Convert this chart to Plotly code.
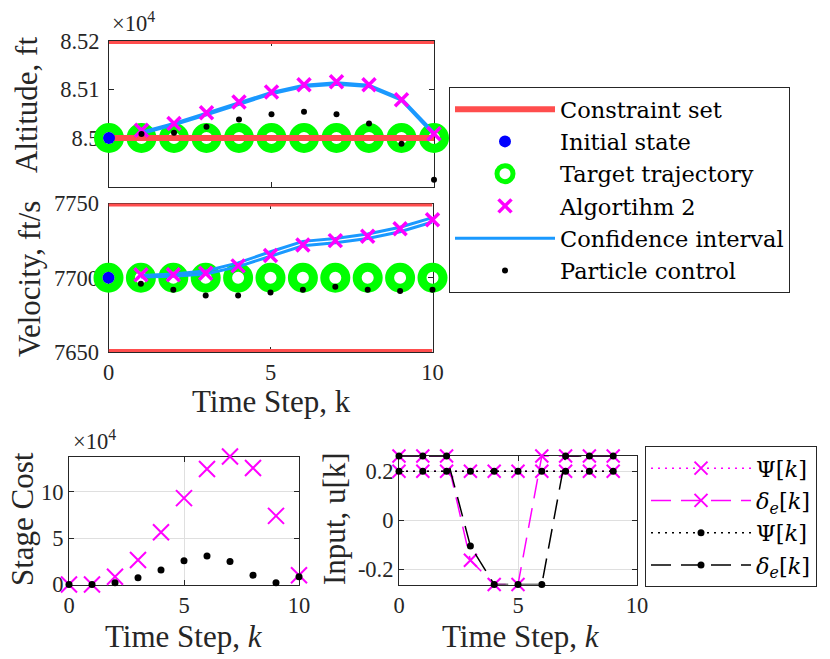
import plotly.graph_objects as go

# ---------------- data ----------------
steps = list(range(11))          # k = 0..10
steps_fwd = list(range(1, 11))   # k = 1..10
steps_u = list(range(10))        # k = 0..9
k_ticks = [0, 5, 10]

# Altitude, ft
alt_initial = [85000]
alt_target = [85000] * 11
alt_limits = [85000, 85200]
alt_alg = [85016, 85030, 85052, 85074, 85095, 85110, 85116, 85110, 85079, 85009]
alt_ci_upper = [85012, 85030, 85051, 85073, 85094, 85109, 85114, 85109, 85081, 85011]
alt_ci_lower = [85009, 85027, 85048, 85070, 85091, 85106, 85111, 85106, 85078, 85007]
alt_particle = [85008, 85011, 85023, 85038, 85049, 85054, 85049, 85030, 84988, 84914]
alt_range = [84900, 85200]
alt_tickvals = [85000, 85100, 85200]
alt_ticktext = ["8.5", "8.51", "8.52"]

# Velocity, ft/s
vel_initial = [7700]
vel_target = [7700] * 11
vel_limits = [7650, 7750]
vel_alg = [7702, 7702, 7703, 7708, 7715, 7722, 7725, 7728, 7733, 7739]
vel_ci_upper = [7701.5, 7702.5, 7704.5, 7710, 7717.5, 7724.5, 7726.5, 7729.5, 7734, 7740.5]
vel_ci_lower = [7700.5, 7701, 7702.5, 7707.5, 7714.5, 7721.5, 7723.5, 7726.5, 7731, 7737.5]
vel_particle = [7696, 7692, 7688, 7688, 7690, 7692, 7694, 7692, 7691, 7692]
vel_tickvals = [7650, 7700, 7750]

# Stage cost
cost_alg = [0, 0, 8300, 26400, 56300, 93100, 124500, 138000, 125600, 74000, 10000]
cost_particle = [0, 0, 1800, 7200, 15500, 25600, 30700, 24900, 10100, 1800, 8300]
cost_tickvals = [0, 50000, 100000]
cost_ticktext = ["0", "5", "10"]

# Inputs
psi_alg = [0.2] * 10
de_alg = [0.2618, 0.2618, 0.2618, -0.163, -0.2618, -0.2618, 0.2618, 0.2618, 0.2618, 0.2618]
psi_particle = [0.2] * 10
de_particle = [0.2618, 0.2618, 0.2618, -0.105, -0.2618, -0.2618, -0.2618, 0.2618, 0.2618, 0.2618]
u_tickvals = [-0.2, 0, 0.2]
u_ticktext = ["-0.2", "0", "0.2"]

# ---------------- style ----------------
W, H = 830, 659
TICK_FONT = "Liberation Serif"
TITLE_FONT = "Liberation Serif"
LEG_FONT = "DejaVu Serif"
AX = "#262626"
RED = "#FF4D4D"
GREEN = "#00FF00"
BLUE = "#0000FF"
MAG = "#FF00FF"
CI = "rgb(26,153,255)"
TICK_SIZE = 22.5
TITLE_SIZE = 31
LEG_SIZE = 22.5


def fx(p):
    return p / W


def fy(p):
    return 1 - p / H


def hline_pair(xs, levels):
    x, y = [], []
    for i, lv in enumerate(levels):
        if i:
            x.append(None)
            y.append(None)
        x += [xs[0], xs[-1]]
        y += [lv, lv]
    return x, y


fig = go.Figure()

# ---- state subplots (altitude: x/y, velocity: x2/y2) ----
for xa, ya, target, limits, init, ci_u, ci_l, alg, part, show in [
    ("x", "y", alt_target, alt_limits, alt_initial, alt_ci_upper, alt_ci_lower, alt_alg, alt_particle, True),
    ("x2", "y2", vel_target, vel_limits, vel_initial, vel_ci_upper, vel_ci_lower, vel_alg, vel_particle, False),
]:
    fig.add_trace(go.Scatter(
        x=steps, y=target, xaxis=xa, yaxis=ya, mode="markers", name="Target trajectory",
        marker=dict(symbol="circle-open", size=21, color=GREEN, line=dict(width=9, color=GREEN)),
        cliponaxis=False, showlegend=show, legendrank=3))
    lx, ly = hline_pair(steps, limits)
    fig.add_trace(go.Scatter(
        x=lx, y=ly, xaxis=xa, yaxis=ya, mode="lines", name="Constraint set",
        line=dict(color=RED, width=6), showlegend=show, legendrank=1))
    fig.add_trace(go.Scatter(
        x=[steps[0]], y=init, xaxis=xa, yaxis=ya, mode="markers", name="Initial state",
        marker=dict(symbol="circle", size=12, color=BLUE), cliponaxis=False,
        showlegend=show, legendrank=2))
    fig.add_trace(go.Scatter(
        x=steps_fwd, y=ci_u, xaxis=xa, yaxis=ya, mode="lines", name="Confidence interval",
        line=dict(color=CI, width=3), showlegend=show, legendrank=5))
    fig.add_trace(go.Scatter(
        x=steps_fwd, y=ci_l, xaxis=xa, yaxis=ya, mode="lines", name="Confidence interval",
        line=dict(color=CI, width=3), showlegend=False))
    fig.add_trace(go.Scatter(
        x=steps_fwd, y=alg, xaxis=xa, yaxis=ya, mode="markers", name="Algortihm 2",
        marker=dict(symbol="x-thin", size=13, color=MAG, line=dict(width=3.5, color=MAG)),
        cliponaxis=False, showlegend=show, legendrank=4))
    fig.add_trace(go.Scatter(
        x=steps_fwd, y=part, xaxis=xa, yaxis=ya, mode="markers", name="Particle control",
        marker=dict(symbol="circle", size=6, color="black"), cliponaxis=False,
        showlegend=show, legendrank=6))

# ---- stage cost (x3/y3) ----
fig.add_trace(go.Scatter(
    x=steps, y=cost_alg, xaxis="x3", yaxis="y3", mode="markers", showlegend=False,
    marker=dict(symbol="x-thin", size=16, color=MAG, line=dict(width=2, color=MAG)), cliponaxis=False))
fig.add_trace(go.Scatter(
    x=steps, y=cost_particle, xaxis="x3", yaxis="y3", mode="markers", showlegend=False,
    marker=dict(symbol="circle", size=7, color="black"), cliponaxis=False))

# ---- inputs (x4/y4) ----
xmark = dict(symbol="x-thin", size=13, color=MAG, line=dict(width=2, color=MAG))
dmark = dict(symbol="circle", size=7, color="black")
fig.add_trace(go.Scatter(
    x=steps_u, y=psi_alg, xaxis="x4", yaxis="y4", mode="lines+markers", name="Ψ[<i>k</i>]",
    line=dict(color=MAG, width=1.5, dash="2px,5px"), marker=xmark, cliponaxis=False, legend="legend2"))
fig.add_trace(go.Scatter(
    x=steps_u, y=de_alg, xaxis="x4", yaxis="y4", mode="lines+markers", name="<i>δ</i><sub><i>e</i></sub>[<i>k</i>]",
    line=dict(color=MAG, width=1.5, dash="20px,10px"), marker=xmark, cliponaxis=False, legend="legend2"))
fig.add_trace(go.Scatter(
    x=steps_u, y=psi_particle, xaxis="x4", yaxis="y4", mode="lines+markers", name="Ψ[<i>k</i>]",
    line=dict(color="black", width=1.5, dash="2px,5px"), marker=dmark, cliponaxis=False, legend="legend2"))
fig.add_trace(go.Scatter(
    x=steps_u, y=de_particle, xaxis="x4", yaxis="y4", mode="lines+markers", name="<i>δ</i><sub><i>e</i></sub>[<i>k</i>]",
    line=dict(color="black", width=1.5, dash="20px,10px"), marker=dmark, cliponaxis=False, legend="legend2"))


def axis(domain, anchor, rng, tickvals, ticktext=None, labels=True, grid=False, standoff=0):
    d = dict(domain=domain, anchor=anchor, range=rng, tickmode="array", tickvals=tickvals,
             showline=True, linecolor=AX, linewidth=1, mirror="ticks", ticks="inside",
             ticklen=5, tickcolor=AX, showticklabels=labels, zeroline=False, automargin=False,
             showgrid=grid, gridcolor="#DFDFDF", gridwidth=1, layer="below traces",
             ticklabelstandoff=standoff,
             tickfont=dict(family=TICK_FONT, size=TICK_SIZE, color=AX))
    if ticktext is not None:
        d["ticktext"] = ticktext
    return d


u_lim = max(abs(v) for v in de_alg + de_particle)
krange = [steps[0], steps[-1]]

fig.update_layout(
    template="none",
    width=W, height=H, margin=dict(l=0, r=0, t=0, b=0, pad=0, autoexpand=False),
    paper_bgcolor="white", plot_bgcolor="white",
    font=dict(family=TITLE_FONT, color="black"),
    xaxis=axis([fx(109), fx(434)], "y", krange, k_ticks, labels=False),
    yaxis=axis([fy(186.5), fy(41)], "x", alt_range, alt_tickvals, alt_ticktext, standoff=4),
    xaxis2=axis([fx(108.5), fx(432.5)], "y2", krange, k_ticks),
    yaxis2=axis([fy(352), fy(203.5)], "x2", vel_limits, vel_tickvals, standoff=4),
    xaxis3=axis([fx(69), fx(299)], "y3", krange, k_ticks, grid=True),
    yaxis3=axis([fy(584.5), fy(456.5)], "x3", [0, max(cost_alg)], cost_tickvals, cost_ticktext, grid=True),
    xaxis4=axis([fx(399), fx(637)], "y4", krange, k_ticks, grid=True),
    yaxis4=axis([fy(584.5), fy(456)], "x4", [-u_lim, u_lim], u_tickvals, u_ticktext, grid=True),
    legend=dict(x=fx(449), y=fy(87), xanchor="left", yanchor="top", bgcolor="white",
                bordercolor=AX, borderwidth=1, itemwidth=100, tracegroupgap=0,
                font=dict(family=LEG_FONT, size=LEG_SIZE, color="black")),
    legend2=dict(x=fx(645), y=fy(446), xanchor="left", yanchor="top", bgcolor="white",
                 bordercolor=AX, borderwidth=1, itemwidth=100, tracegroupgap=0,
                 font=dict(family=LEG_FONT, size=LEG_SIZE, color="black")),
)

ann = []


def title(text, x, y, angle=0, size=TITLE_SIZE):
    ann.append(dict(text=text, x=fx(x), y=fy(y), xref="paper", yref="paper", showarrow=False,
                    xanchor="center", yanchor="middle", textangle=angle,
                    font=dict(family=TITLE_FONT, size=size, color=AX)))


title("Altitude, ft", 26, 105, -90)
title("Velocity, ft/s", 29, 279, -90)
title("Time Step, k", 271, 401)
title("Stage Cost", 22, 519, -90)
title("Time Step, <i>k</i>", 184, 636)
title("Input, u[k]", 334, 519, -90)
title("Time Step, <i>k</i>", 521, 636)
for x, y in [(110, 22), (71, 440)]:
    ann.append(dict(text="×10<sup>4</sup>", x=fx(x), y=fy(y), xref="paper", yref="paper",
                    showarrow=False, xanchor="left", yanchor="middle",
                    font=dict(family=TICK_FONT, size=TICK_SIZE, color=AX)))
fig.update_layout(annotations=ann)

fig.write_html("out.html", config={"displayModeBar": False},
               post_script="document.body.style.margin='0';document.body.style.padding='0';")
